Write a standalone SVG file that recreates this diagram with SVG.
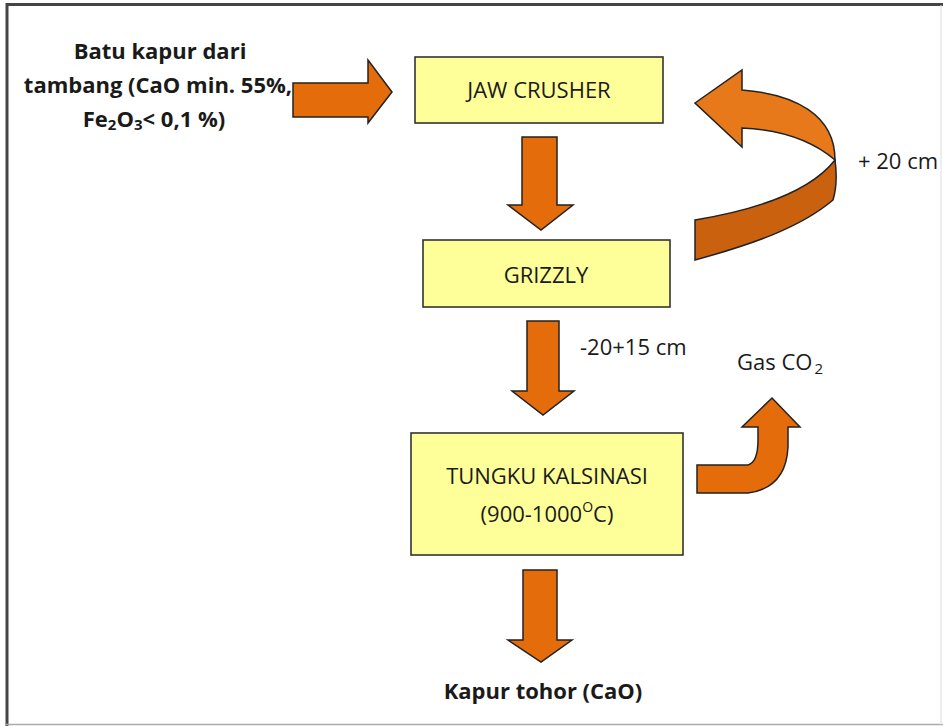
<svg xmlns="http://www.w3.org/2000/svg" width="943" height="726" viewBox="0 0 943 726">
<style>
.box{fill:#FFFF99;stroke:#333;stroke-width:1.6}
.arr{fill:#E46C0A;stroke:#222;stroke-width:1.5;stroke-linejoin:miter}
.t{font-family:"Open Sans","Liberation Sans",sans-serif;font-size:22px;fill:#1a1a1a}
.b{font-family:"Open Sans","Liberation Sans",sans-serif;font-size:22px;font-weight:bold;fill:#1a1a1a}
</style>
<rect x="0" y="0" width="943" height="726" fill="#fff"/>
<g id="frame">
<line x1="6" y1="4.5" x2="943" y2="4.5" stroke="#444" stroke-width="3"/>
<line x1="7" y1="3" x2="7" y2="726" stroke="#444" stroke-width="3"/>
<line x1="6" y1="724.5" x2="943" y2="724.5" stroke="#aaa" stroke-width="1.5"/>
<line x1="941" y1="5" x2="941" y2="726" stroke="#ddd" stroke-width="1"/>
</g>
<g id="source">
<text class="b" x="160" y="59" text-anchor="middle">Batu kapur dari</text>
<text class="b" x="158" y="93" text-anchor="middle">tambang (CaO min. 55%,</text>
<text class="b" x="154" y="127" text-anchor="middle">Fe<tspan font-size="15" dy="3">2</tspan><tspan dy="-3">O</tspan><tspan font-size="15" dy="3">3</tspan><tspan dy="-3">&lt; 0,1 %)</tspan></text>
</g>
<g id="jaw-crusher">
<rect class="box" x="415" y="57" width="248" height="66"/>
<text class="t" x="539" y="98" text-anchor="middle">JAW CRUSHER</text>
</g>
<g id="grizzly">
<rect class="box" x="423" y="240" width="247" height="67"/>
<text class="t" x="546" y="283" text-anchor="middle">GRIZZLY</text>
</g>
<g id="tungku">
<rect class="box" x="411" y="433" width="272" height="122"/>
<text class="t" x="547" y="484" text-anchor="middle">TUNGKU KALSINASI</text>
<text class="t" x="547" y="522" text-anchor="middle">(900-1000<tspan font-size="14" dy="-10">O</tspan><tspan dy="10">C)</tspan></text>
</g>
<g id="product">
<text class="b" x="543" y="699" text-anchor="middle">Kapur tohor (CaO)</text>
</g>
<g id="labels">
<text class="t" x="580" y="355">-20+15 cm</text>
<text class="t" x="858" y="169">+ 20 cm</text>
<text class="t" x="737" y="370">Gas CO<tspan font-size="15" dx="2" dy="4">2</tspan></text>
</g>
<g id="connectors">
<path class="arr" d="M293,83 L368,83 L368,60 L392,92 L368,123 L368,117 L293,117 Z"/>
<path class="arr" d="M522,137 L557,137 L557,205 L573,205 L541,230 L508,205 L522,205 Z"/>
<path class="arr" d="M527,321 L559,321 L559,391 L574,391 L543,415 L512,391 L527,391 Z"/>
<path class="arr" d="M523,570 L557,570 L557,640 L572,640 L541,662 L508,640 L523,640 Z"/>
<path class="arr" d="M697,465 L748,465 Q758,462 758,440 L758,427 L742,427 L772,398 L800,427 L788,427 L788,447 Q786,488 748,493 L697,493 Z"/>
<path fill="#E8791A" stroke="#222" stroke-width="1.5" d="M742,128 L742,147 L695,103 L742,70 L742,90 C795,94 835,115 835,160 C815,143 785,130 742,128 Z"/>
<path fill="#C9610F" stroke="#222" stroke-width="1.5" d="M835,160 C837,175 836,190 833,200 C800,228 750,245 695,260 L695,220 C755,210 810,192 835,160 Z"/>
</g>
</svg>
